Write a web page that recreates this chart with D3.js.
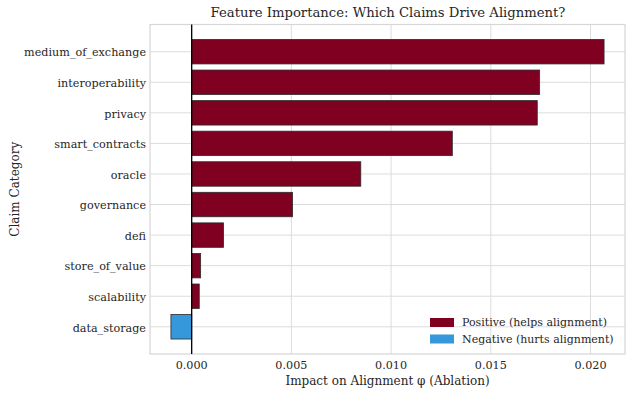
<!DOCTYPE html>
<html>
<head>
<meta charset="utf-8">
<script src="https://cdn.jsdelivr.net/npm/d3@7"></script>
<style>
  body { margin: 0; background: #fff; }
  text { font-family: "DejaVu Serif", serif; fill: #262626; }
</style>
</head>
<body>
<div id="chart"></div>
<script>
// data
const categories = ['medium_of_exchange', 'interoperability', 'privacy', 'smart_contracts', 'oracle',
                    'governance', 'defi', 'store_of_value', 'scalability', 'data_storage'];
const impacts = [0.02068, 0.01745, 0.01733, 0.01307, 0.00848, 0.00506, 0.0016, 0.00045, 0.00038, -0.00104];
const xTicks = [0, 0.005, 0.010, 0.015, 0.020];
const legendLabels = ['Positive (helps alignment)', 'Negative (hurts alignment)'];

const width = 634, height = 395;
const plotLeft = 150, plotRight = 625, plotTop = 24.5, plotBottom = 354;
const posColor = '#7f0020', negColor = '#3498db';

const svg = d3.select('#chart')
      .append('svg')
      .attr('width', width)
      .attr('height', height);

const xScale = d3.scaleLinear()
        .domain([-0.00209, 0.02173])
        .range([plotLeft, plotRight]);

const yScale = d3.scaleBand()
        .domain(categories)
        .range([plotTop, plotBottom])
        .paddingInner(0.2)
        .paddingOuter(0.49);

// grid
svg.append('g')
   .selectAll('line')
   .data(xTicks)
   .enter()
   .append('line')
   .attr('x1', d => xScale(d)).attr('x2', d => xScale(d))
   .attr('y1', plotTop).attr('y2', plotBottom)
   .attr('stroke', '#dcdcdc').attr('stroke-width', 1);

svg.append('g')
   .selectAll('line')
   .data(categories)
   .enter()
   .append('line')
   .attr('x1', plotLeft).attr('x2', plotRight)
   .attr('y1', d => yScale(d) + yScale.bandwidth() / 2)
   .attr('y2', d => yScale(d) + yScale.bandwidth() / 2)
   .attr('stroke', '#dcdcdc').attr('stroke-width', 1);

// frame
svg.append('rect')
   .attr('x', plotLeft).attr('y', plotTop)
   .attr('width', plotRight - plotLeft).attr('height', plotBottom - plotTop)
   .attr('fill', 'none')
   .attr('stroke', '#d6d6d6').attr('stroke-width', 1.2);

// bars
svg.selectAll('.bar')
   .data(impacts)
   .enter()
   .append('rect')
   .attr('class', 'bar')
   .attr('x', d => xScale(Math.min(0, d)))
   .attr('y', (d, i) => yScale(categories[i]))
   .attr('width', d => Math.abs(xScale(d) - xScale(0)))
   .attr('height', yScale.bandwidth())
   .attr('fill', d => d >= 0 ? posColor : negColor)
   .attr('stroke', '#2b2b2b')
   .attr('stroke-width', 0.8);

// zero line
svg.append('line')
   .attr('x1', xScale(0)).attr('x2', xScale(0))
   .attr('y1', plotTop).attr('y2', plotBottom)
   .attr('stroke', '#000').attr('stroke-width', 1.3);

// tick labels
svg.append('g')
   .selectAll('text')
   .data(xTicks)
   .enter()
   .append('text')
   .attr('x', d => xScale(d))
   .attr('y', plotBottom + 15)
   .attr('text-anchor', 'middle')
   .style('font-size', '11.2px')
   .text(d => d3.format('.3f')(d));

svg.append('g')
   .selectAll('text')
   .data(categories)
   .enter()
   .append('text')
   .attr('x', plotLeft - 4)
   .attr('y', d => yScale(d) + yScale.bandwidth() / 2 + 0.8)
   .attr('dy', '0.35em')
   .attr('text-anchor', 'end')
   .style('font-size', '11.2px')
   .text(d => d);

// titles
svg.append('text')
   .attr('x', (plotLeft + plotRight) / 2 + 0.5)
   .attr('y', 17)
   .attr('text-anchor', 'middle')
   .style('font-size', '13.2px')
   .text('Feature Importance: Which Claims Drive Alignment?');

svg.append('text')
   .attr('x', (plotLeft + plotRight) / 2)
   .attr('y', 385)
   .attr('text-anchor', 'middle')
   .style('font-size', '12px')
   .text('Impact on Alignment φ (Ablation)');

svg.append('text')
   .attr('transform', 'translate(19,' + ((plotTop + plotBottom) / 2) + ') rotate(-90)')
   .attr('text-anchor', 'middle')
   .style('font-size', '12px')
   .text('Claim Category');

// legend
const legend = svg.append('g').attr('transform', 'translate(430,318)');
legendLabels.forEach(function(label, i) {
  legend.append('rect')
        .attr('x', 0).attr('y', i * 16.5)
        .attr('width', 24).attr('height', 9)
        .attr('fill', i === 0 ? posColor : negColor);
  legend.append('text')
        .attr('x', 32).attr('y', i * 16.5 + 4.5)
        .attr('dy', '0.35em')
        .style('font-size', '11px')
        .text(label);
});
</script>
</body>
</html>
